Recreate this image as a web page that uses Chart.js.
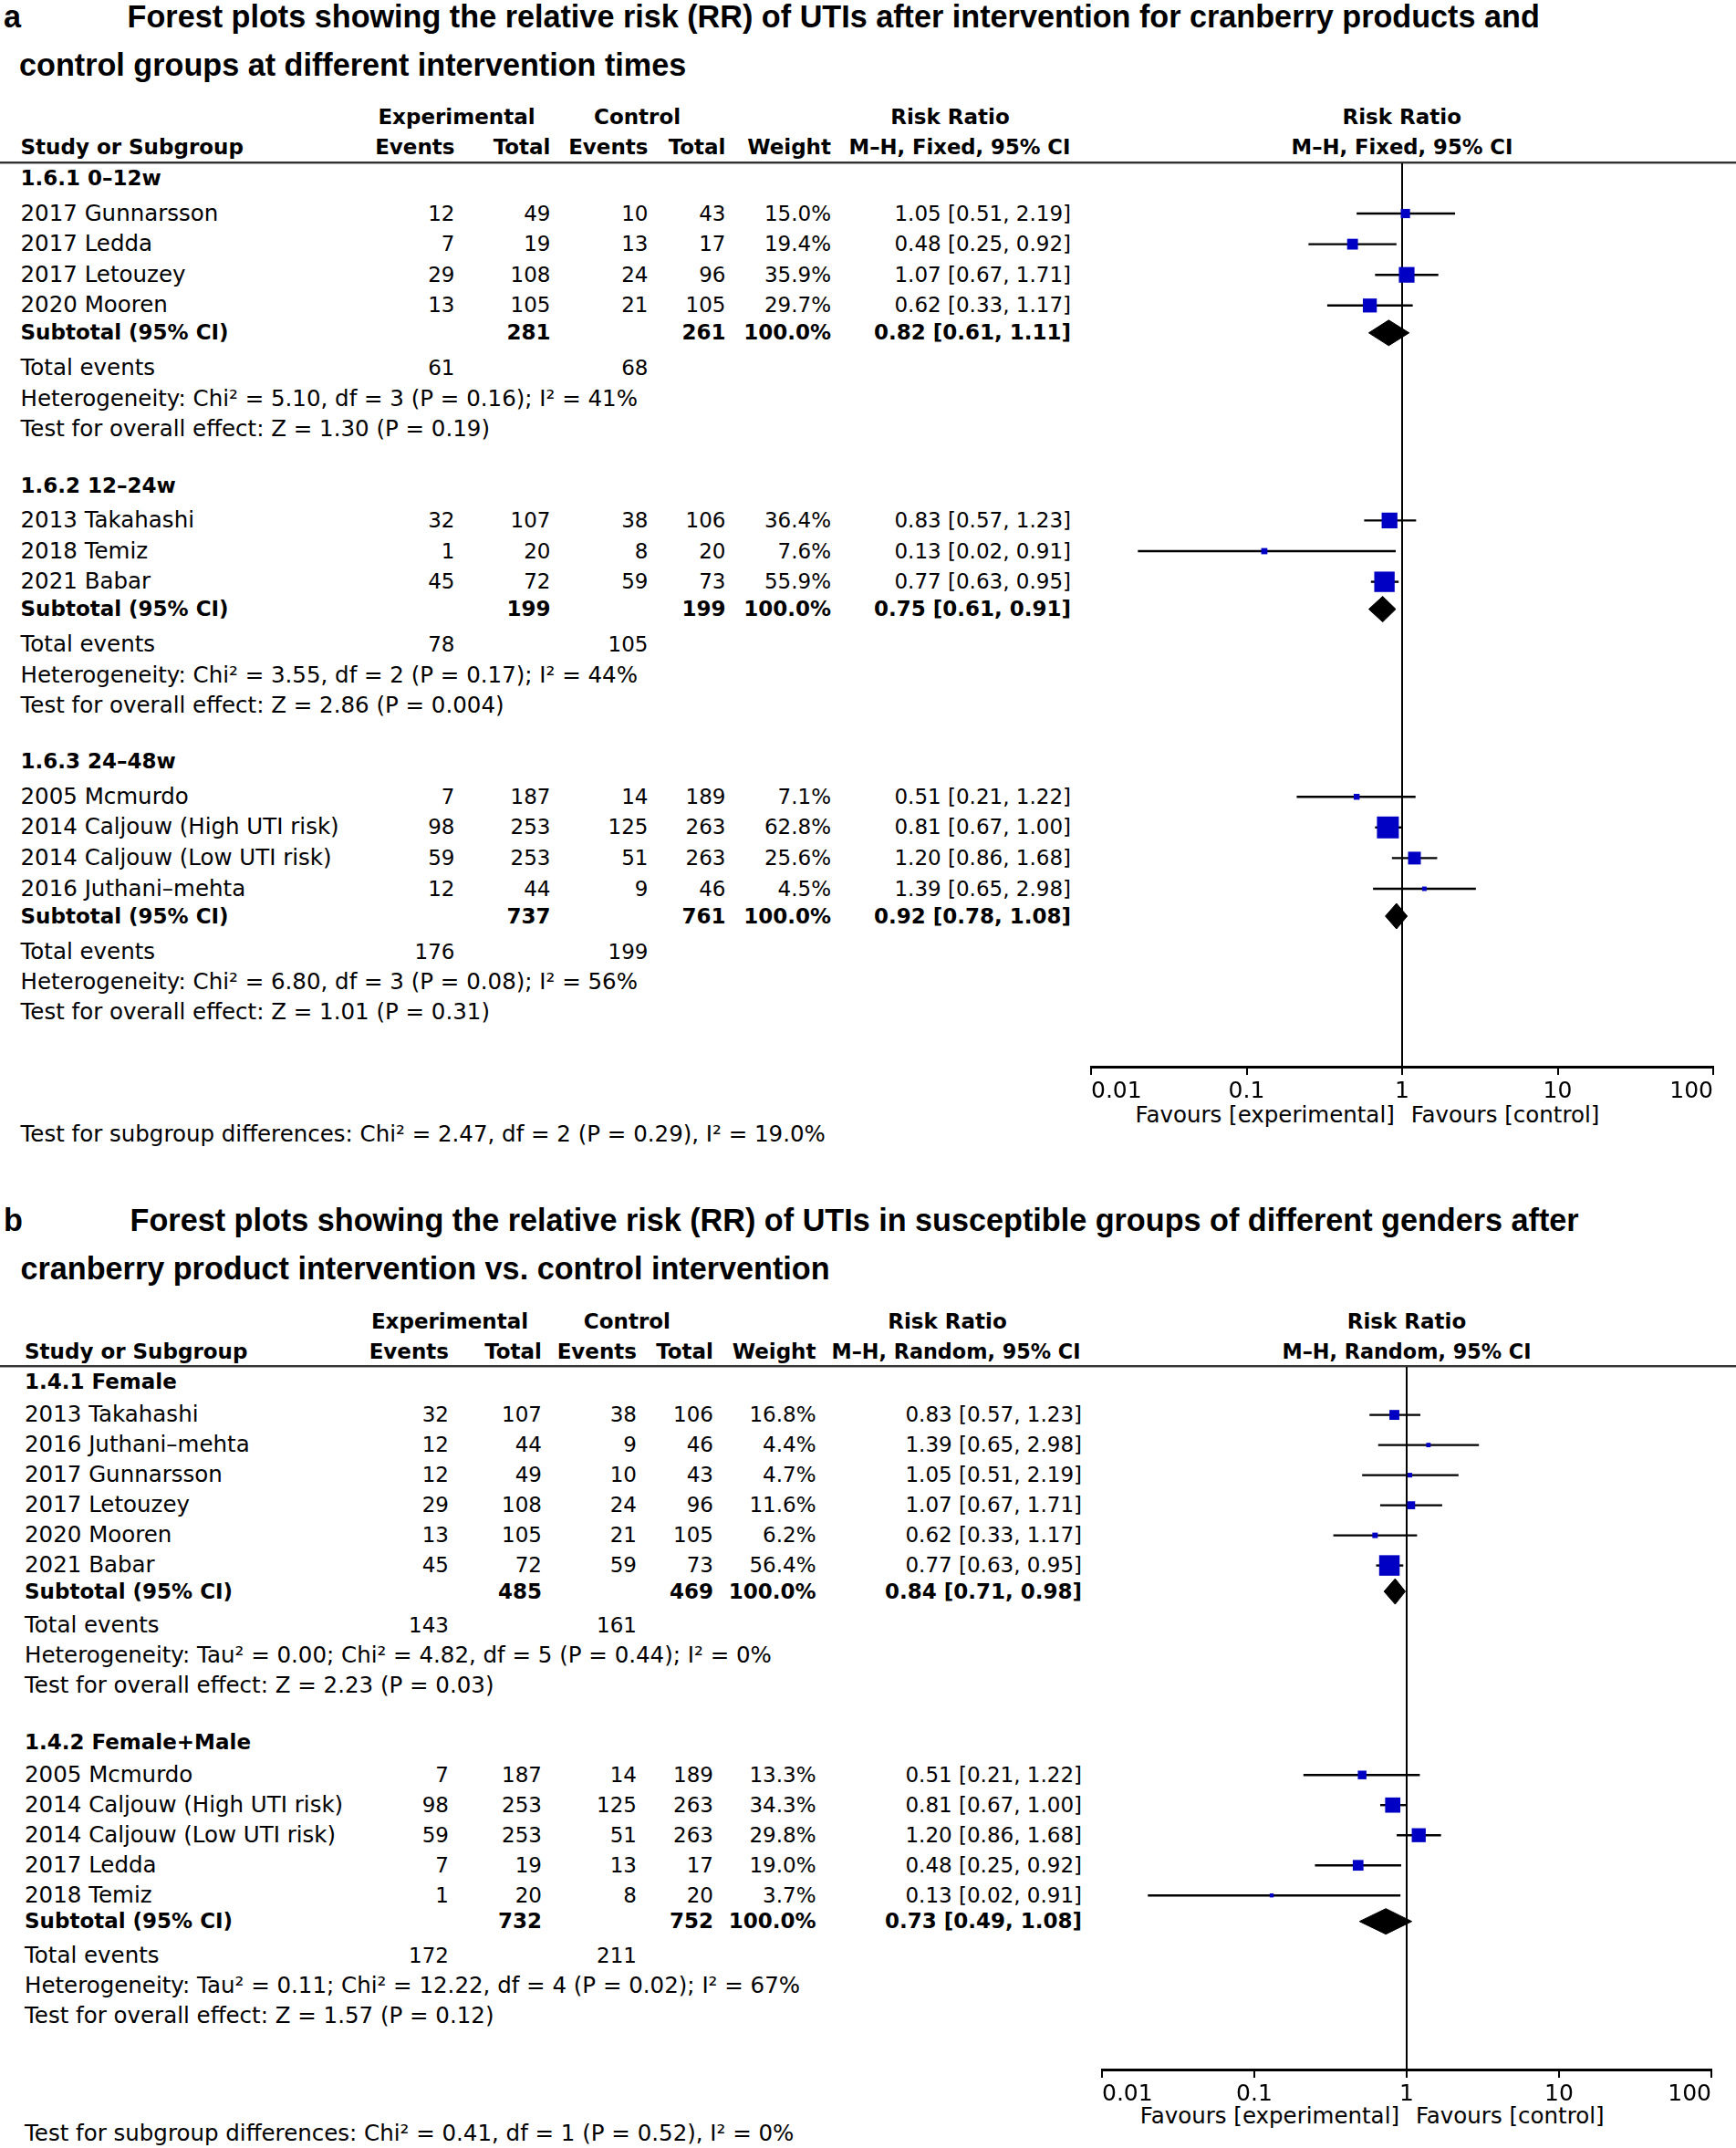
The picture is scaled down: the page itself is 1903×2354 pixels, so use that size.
<!DOCTYPE html>
<html>
<head>
<meta charset="utf-8">
<title>Forest plots – cranberry products and UTIs</title>
<script src="https://cdn.jsdelivr.net/npm/chart.js@4.4.1/dist/chart.umd.min.js"></script>
<style>
  html, body { margin: 0; padding: 0; background: #fff; }
  #page { position: relative; width: 1903px; height: 2354px; overflow: hidden;
    font-family: "DejaVu Sans", sans-serif; font-size: 24.5px; color: #000; }
  .t { position: absolute; white-space: nowrap; line-height: 1; transform: translateY(-50%); }
  .r { transform: translate(-100%, -50%); }
  .c { transform: translate(-50%, -50%); }
  .n { font-size: 23px; }
  .b { font-weight: bold; font-size: 23px; }
  .title { font-family: "Liberation Sans", Arial, sans-serif; font-weight: bold; font-size: 34.2px; }
  .rule { position: absolute; left: 0; width: 1903px; height: 0;
    border-top: 2px solid #333; border-bottom: 1px solid #aaa; }
  canvas { position: absolute; }
</style>
</head>
<body>
<div id="page"></div>
<script>
// ---- a: intervention time, M-H fixed ----
const timeGroups = ["1.6.1 0–12w", "1.6.2 12–24w", "1.6.3 24–48w"];
const timeStudies = ["2017 Gunnarsson", "2017 Ledda", "2017 Letouzey", "2020 Mooren",
  "2013 Takahashi", "2018 Temiz", "2021 Babar",
  "2005 Mcmurdo", "2014 Caljouw (High UTI risk)", "2014 Caljouw (Low UTI risk)", "2016 Juthani–mehta"];
const timeGroupOf = [0, 0, 0, 0, 1, 1, 1, 2, 2, 2, 2];
const timeExpEvents = [12, 7, 29, 13, 32, 1, 45, 7, 98, 59, 12];
const timeExpTotal = [49, 19, 108, 105, 107, 20, 72, 187, 253, 253, 44];
const timeCtlEvents = [10, 13, 24, 21, 38, 8, 59, 14, 125, 51, 9];
const timeCtlTotal = [43, 17, 96, 105, 106, 20, 73, 189, 263, 263, 46];
const timeWeight = [15.0, 19.4, 35.9, 29.7, 36.4, 7.6, 55.9, 7.1, 62.8, 25.6, 4.5];
const timeRR = [1.05, 0.48, 1.07, 0.62, 0.83, 0.13, 0.77, 0.51, 0.81, 1.20, 1.39];
const timeLower = [0.51, 0.25, 0.67, 0.33, 0.57, 0.02, 0.63, 0.21, 0.67, 0.86, 0.65];
const timeUpper = [2.19, 0.92, 1.71, 1.17, 1.23, 0.91, 0.95, 1.22, 1.00, 1.68, 2.98];
const timeSubExpTotal = [281, 199, 737];
const timeSubCtlTotal = [261, 199, 761];
const timeSubRR = [0.82, 0.75, 0.92];
const timeSubLower = [0.61, 0.61, 0.78];
const timeSubUpper = [1.11, 0.91, 1.08];
const timeTotExpEvents = [61, 78, 176];
const timeTotCtlEvents = [68, 105, 199];
const timeHeterogeneity = [
  "Heterogeneity: Chi² = 5.10, df = 3 (P = 0.16); I² = 41%",
  "Heterogeneity: Chi² = 3.55, df = 2 (P = 0.17); I² = 44%",
  "Heterogeneity: Chi² = 6.80, df = 3 (P = 0.08); I² = 56%"];
const timeOverall = [
  "Test for overall effect: Z = 1.30 (P = 0.19)",
  "Test for overall effect: Z = 2.86 (P = 0.004)",
  "Test for overall effect: Z = 1.01 (P = 0.31)"];
const timeSubgroupTest = "Test for subgroup differences: Chi² = 2.47, df = 2 (P = 0.29), I² = 19.0%";

// ---- b: gender, M-H random ----
const sexGroups = ["1.4.1 Female", "1.4.2 Female+Male"];
const sexStudies = ["2013 Takahashi", "2016 Juthani–mehta", "2017 Gunnarsson", "2017 Letouzey", "2020 Mooren", "2021 Babar",
  "2005 Mcmurdo", "2014 Caljouw (High UTI risk)", "2014 Caljouw (Low UTI risk)", "2017 Ledda", "2018 Temiz"];
const sexGroupOf = [0, 0, 0, 0, 0, 0, 1, 1, 1, 1, 1];
const sexExpEvents = [32, 12, 12, 29, 13, 45, 7, 98, 59, 7, 1];
const sexExpTotal = [107, 44, 49, 108, 105, 72, 187, 253, 253, 19, 20];
const sexCtlEvents = [38, 9, 10, 24, 21, 59, 14, 125, 51, 13, 8];
const sexCtlTotal = [106, 46, 43, 96, 105, 73, 189, 263, 263, 17, 20];
const sexWeight = [16.8, 4.4, 4.7, 11.6, 6.2, 56.4, 13.3, 34.3, 29.8, 19.0, 3.7];
const sexRR = [0.83, 1.39, 1.05, 1.07, 0.62, 0.77, 0.51, 0.81, 1.20, 0.48, 0.13];
const sexLower = [0.57, 0.65, 0.51, 0.67, 0.33, 0.63, 0.21, 0.67, 0.86, 0.25, 0.02];
const sexUpper = [1.23, 2.98, 2.19, 1.71, 1.17, 0.95, 1.22, 1.00, 1.68, 0.92, 0.91];
const sexSubExpTotal = [485, 732];
const sexSubCtlTotal = [469, 752];
const sexSubRR = [0.84, 0.73];
const sexSubLower = [0.71, 0.49];
const sexSubUpper = [0.98, 1.08];
const sexTotExpEvents = [143, 172];
const sexTotCtlEvents = [161, 211];
const sexHeterogeneity = [
  "Heterogeneity: Tau² = 0.00; Chi² = 4.82, df = 5 (P = 0.44); I² = 0%",
  "Heterogeneity: Tau² = 0.11; Chi² = 12.22, df = 4 (P = 0.02); I² = 67%"];
const sexOverall = [
  "Test for overall effect: Z = 2.23 (P = 0.03)",
  "Test for overall effect: Z = 1.57 (P = 0.12)"];
const sexSubgroupTest = "Test for subgroup differences: Chi² = 0.41, df = 1 (P = 0.52), I² = 0%";

const riskTicks = [0.01, 0.1, 1, 10, 100];
const riskTickLabels = ["0.01", "0.1", "1", "10", "100"];

const panels = [
  {
    letter: "a",
    title: ["Forest plots showing the relative risk (RR) of UTIs after intervention for cranberry products and",
            "control groups at different intervention times"],
    method: "M–H, Fixed, 95% CI",
    groups: timeGroups, studies: timeStudies, groupOf: timeGroupOf,
    expEvents: timeExpEvents, expTotal: timeExpTotal, ctlEvents: timeCtlEvents, ctlTotal: timeCtlTotal,
    weight: timeWeight, rr: timeRR, lower: timeLower, upper: timeUpper,
    subExpTotal: timeSubExpTotal, subCtlTotal: timeSubCtlTotal,
    subRR: timeSubRR, subLower: timeSubLower, subUpper: timeSubUpper,
    totExp: timeTotExpEvents, totCtl: timeTotCtlEvents,
    het: timeHeterogeneity, overall: timeOverall, subgroupTest: timeSubgroupTest,
    // layout, page pixels
    titleY: [18, 70.5], titleX: 139.6, title2X: 21,
    head1Y: 127.6, head2Y: 160.6, ruleY: 178.6,
    nameX: 22.5, cols: [498.5, 603.5, 710.5, 795.5, 911],
    ciRight: 1174, ciHeadX: 1052, ciHeadW: 243,
    expHeadX: 500.5, ctlHeadX: 698.6, rrHeadX: 1041.5,
    firstY: 195.1, gap: { headToStudy: 38.5, row: 33.6, studyToSub: 30, subToTotal: 39, line: 33.3, testToHead: 61.5 },
    axisY: 1169.1, axisLeft: 1196, axisRight: 1877.5,
    favoursDy: 53, subgroupY: 1242.7
  },
  {
    letter: "b",
    title: ["Forest plots showing the relative risk (RR) of UTIs in susceptible groups of different genders after",
            "cranberry product intervention vs. control intervention"],
    method: "M–H, Random, 95% CI",
    groups: sexGroups, studies: sexStudies, groupOf: sexGroupOf,
    expEvents: sexExpEvents, expTotal: sexExpTotal, ctlEvents: sexCtlEvents, ctlTotal: sexCtlTotal,
    weight: sexWeight, rr: sexRR, lower: sexLower, upper: sexUpper,
    subExpTotal: sexSubExpTotal, subCtlTotal: sexSubCtlTotal,
    subRR: sexSubRR, subLower: sexSubLower, subUpper: sexSubUpper,
    totExp: sexTotExpEvents, totCtl: sexTotCtlEvents,
    het: sexHeterogeneity, overall: sexOverall, subgroupTest: sexSubgroupTest,
    titleY: [1337, 1389.7], titleX: 142.6, title2X: 22.5,
    head1Y: 1448, head2Y: 1481, ruleY: 1497.7,
    nameX: 27, cols: [492, 594, 698, 782, 894.5],
    ciRight: 1186, ciHeadX: 1047.5, ciHeadW: 273,
    expHeadX: 493, ctlHeadX: 687.4, rrHeadX: 1038.5,
    firstY: 1514.3, gap: { headToStudy: 36, row: 33, studyToSub: 28.5, subToTotal: 37.6, line: 33, testToHead: 61.5 },
    axisY: 2267.7, axisLeft: 1208, axisRight: 1876,
    favoursDy: 51, subgroupY: 2338.2
  }
];

const page = document.getElementById("page");

function put(x, y, text, cls) {
  const el = document.createElement("div");
  el.className = "t " + (cls || "");
  el.style.left = x + "px";
  el.style.top = y + "px";
  el.textContent = text;
  page.appendChild(el);
  return el;
}

// squeeze a centred label to the width it has in the figure
function fitCentred(el, width) {
  const w = el.getBoundingClientRect().width;
  el.style.transform = `translate(-50%, -50%) scaleX(${(width / w).toFixed(3)})`;
}

const ci = (r, l, u) => `${r.toFixed(2)} [${l.toFixed(2)}, ${u.toFixed(2)}]`;

function buildPanel(p) {
  const c = p.cols;
  const oneX = (p.axisLeft + p.axisRight) / 2;

  put(4, p.titleY[0], p.letter, "title");
  put(p.titleX, p.titleY[0], p.title[0], "title");
  put(p.title2X, p.titleY[1], p.title[1], "title");

  put(p.expHeadX, p.head1Y, "Experimental", "b c");
  put(p.ctlHeadX, p.head1Y, "Control", "b c");
  put(p.rrHeadX, p.head1Y, "Risk Ratio", "b c");
  put(oneX, p.head1Y, "Risk Ratio", "b c");
  put(p.nameX, p.head2Y, "Study or Subgroup", "b");
  ["Events", "Total", "Events", "Total", "Weight"].forEach((h, k) => put(c[k], p.head2Y, h, "b r"));
  fitCentred(put(p.ciHeadX, p.head2Y, p.method, "b c"), p.ciHeadW);
  fitCentred(put(oneX, p.head2Y, p.method, "b c"), p.ciHeadW);

  const rule = document.createElement("div");
  rule.className = "rule";
  rule.style.top = (p.ruleY - 1.5) + "px";
  page.appendChild(rule);

  const studyY = [], subY = [];
  let y = p.firstY;
  p.groups.forEach((g, gi) => {
    put(p.nameX, y, g, "b");
    y += p.gap.headToStudy;
    const members = p.groupOf.map((v, i) => (v === gi ? i : -1)).filter(i => i >= 0);
    members.forEach((i, k) => {
      if (k > 0) y += p.gap.row;
      studyY[i] = y;
      put(p.nameX, y, p.studies[i]);
      put(c[0], y, p.expEvents[i], "n r");
      put(c[1], y, p.expTotal[i], "n r");
      put(c[2], y, p.ctlEvents[i], "n r");
      put(c[3], y, p.ctlTotal[i], "n r");
      put(c[4], y, p.weight[i].toFixed(1) + "%", "n r");
      put(p.ciRight, y, ci(p.rr[i], p.lower[i], p.upper[i]), "n r");
    });
    y += p.gap.studyToSub;
    subY[gi] = y;
    put(p.nameX, y, "Subtotal (95% CI)", "b");
    put(c[1], y, p.subExpTotal[gi], "b r");
    put(c[3], y, p.subCtlTotal[gi], "b r");
    put(c[4], y, "100.0%", "b r");
    put(p.ciRight, y, ci(p.subRR[gi], p.subLower[gi], p.subUpper[gi]), "b r");
    y += p.gap.subToTotal;
    put(p.nameX, y, "Total events");
    put(c[0], y, p.totExp[gi], "n r");
    put(c[2], y, p.totCtl[gi], "n r");
    y += p.gap.line;
    put(p.nameX, y, p.het[gi]);
    y += p.gap.line;
    put(p.nameX, y, p.overall[gi]);
    y += p.gap.testToHead;
  });

  put(oneX - 8, p.axisY + p.favoursDy, "Favours [experimental]", "r");
  put(oneX + 10, p.axisY + p.favoursDy, "Favours [control]");
  put(p.nameX, p.subgroupY, p.subgroupTest);

  drawForest(p, studyY, subY);
}

function drawForest(p, studyY, subY) {
  const padX = 30, axisH = 44, diamondH = 28;
  const plotW = Math.round(p.axisRight - p.axisLeft);
  const plotH = Math.round(p.axisY - p.ruleY);
  const canvas = document.createElement("canvas");
  canvas.width = plotW + 2 * padX;
  canvas.height = plotH + axisH;
  canvas.style.left = (p.axisLeft - padX) + "px";
  canvas.style.top = p.ruleY + "px";
  page.appendChild(canvas);

  const datasets = [];
  p.studies.forEach((s, i) => {
    datasets.push({
      type: "line", order: 2,
      data: [{ x: p.lower[i], y: studyY[i] }, { x: p.upper[i], y: studyY[i] }],
      borderColor: "#000", borderWidth: 2.4, pointRadius: 0, fill: false
    });
  });
  datasets.push({
    type: "scatter", order: 0,
    data: p.studies.map((s, i) => ({ x: p.rr[i], y: studyY[i] })),
    pointStyle: "rect",
    // box side grows with study weight
    pointRadius: p.weight.map(w => 2.0 * Math.pow(w, 0.6) / Math.SQRT2),
    backgroundColor: "#0000c4", borderWidth: 0
  });
  p.groups.forEach((g, gi) => {
    const yy = subY[gi];
    datasets.push({
      type: "line", order: 0,
      data: [
        { x: p.subLower[gi], y: yy }, { x: p.subRR[gi], y: yy - diamondH / 2 },
        { x: p.subUpper[gi], y: yy }, { x: p.subRR[gi], y: yy + diamondH / 2 },
        { x: p.subLower[gi], y: yy }
      ],
      fill: "shape", backgroundColor: "#000", borderColor: "#000", borderWidth: 1,
      pointRadius: 0, tension: 0
    });
  });

  new Chart(canvas, {
    type: "line",
    data: { datasets },
    options: {
      responsive: false,
      animation: false,
      events: [],
      layout: { autoPadding: false, padding: { left: padX, right: padX, top: 0, bottom: 0 } },
      plugins: { legend: { display: false }, tooltip: { enabled: false } },
      scales: {
        x: {
          type: "logarithmic", min: 0.01, max: 100,
          afterBuildTicks: s => { s.ticks = riskTicks.map(v => ({ value: v })); },
          afterFit: s => { s.height = axisH; },
          ticks: {
            align: "inner", autoSkip: false, maxRotation: 0, padding: 3, color: "#000",
            font: { family: "DejaVu Sans", size: 25 },
            callback: (v, i) => riskTickLabels[i]
          },
          grid: {
            drawOnChartArea: true,
            color: ctx => (ctx.tick && ctx.tick.value === 1 ? "#000" : "rgba(0,0,0,0)"),
            lineWidth: 2, tickLength: 9, tickColor: "#000", tickWidth: 2
          },
          border: { display: true, color: "#000", width: 3 }
        },
        y: {
          type: "linear", display: false, reverse: true, bounds: "data",
          min: p.ruleY, max: p.ruleY + plotH
        }
      }
    }
  });
}

panels.forEach(buildPanel);
</script>
</body>
</html>
